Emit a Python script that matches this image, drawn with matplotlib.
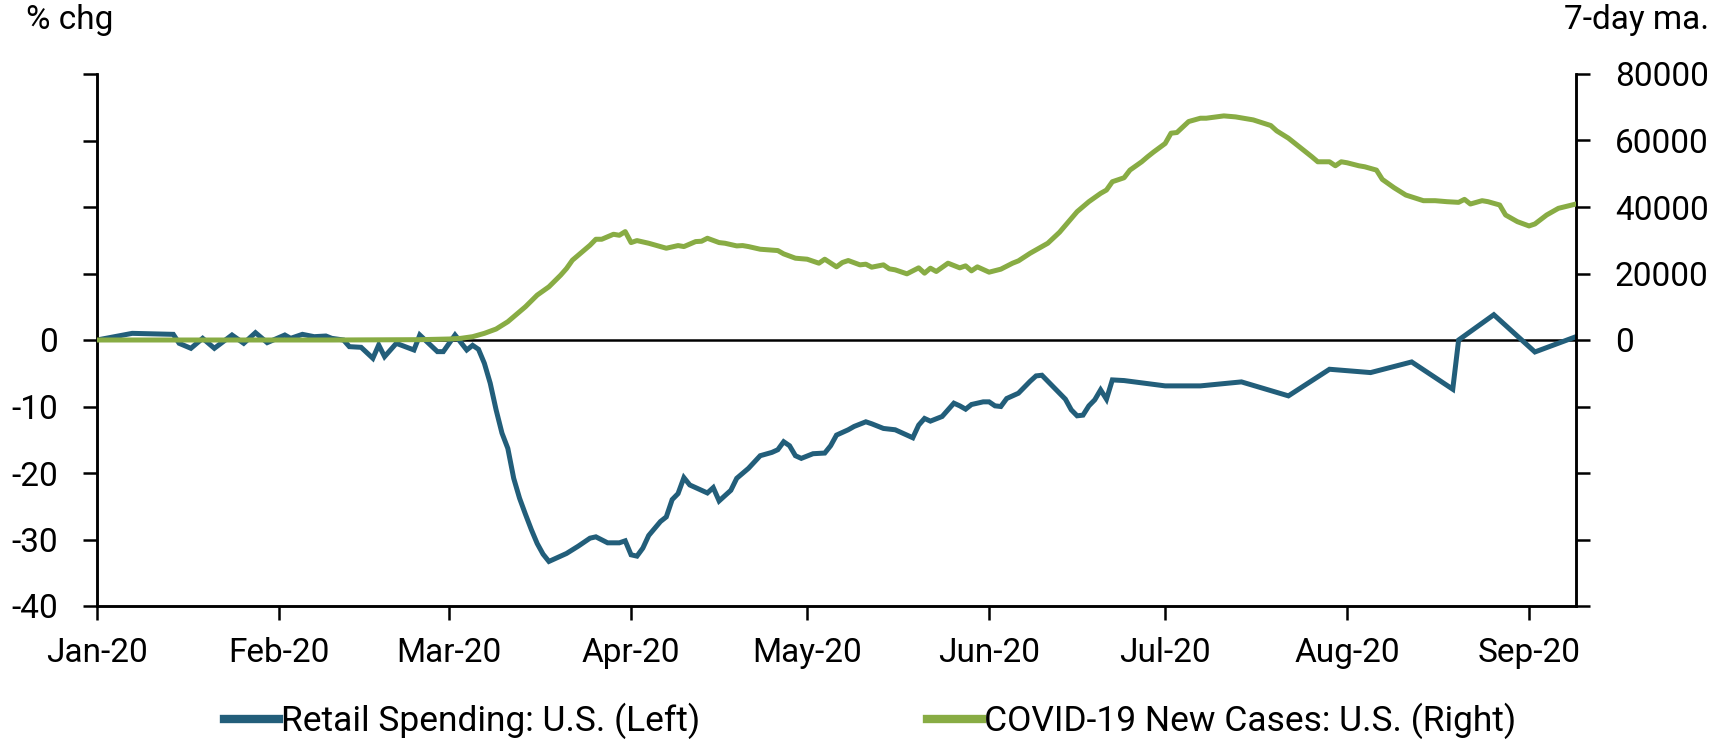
import numpy as np
import pandas as pd
import matplotlib as mpl
mpl.use("Agg")
import matplotlib.pyplot as plt
import matplotlib.dates as mdates
from matplotlib.ticker import FuncFormatter
from matplotlib.lines import Line2D

plt.rcParams['font.family'] = ['Roboto', 'DejaVu Sans']
fontsize = 24

start = pd.Timestamp("2020-01-01")
end_day = 252

# Retail spending, % chg (left axis); days counted from 2020-01-01
retail_day = [0, 6, 13, 14, 16, 18, 20, 23, 25, 27, 29, 32, 33, 35, 37, 39, 40, 42, 43, 45,
              47, 48, 49, 51, 54, 55, 58, 59, 61, 63, 64, 65, 66, 67, 68, 69, 70, 71, 72, 73,
              74, 75, 76, 77, 78, 80, 82, 84, 85, 87, 89, 90, 91, 92, 93, 94, 96, 97, 98, 99,
              100, 101, 103, 104, 105, 106, 108, 109, 111, 113, 115, 116, 117, 118, 119, 120,
              122, 124, 125, 126, 128, 129, 131, 132, 134, 136, 138, 139, 140, 141, 142, 144,
              145, 146, 147, 148, 149, 151, 152, 153, 154, 155, 157, 159, 160, 161, 163, 165,
              166, 167, 168, 169, 170, 171, 172, 173, 175, 182, 188, 195, 203, 210, 217, 224,
              231, 232, 238, 245, 252]
retail_val = [0.0, 1.0, 0.85, -0.5, -1.25, 0.25, -1.25, 0.75, -0.5, 1.1, -0.4, 0.75, 0.25, 0.85,
              0.5, 0.6, 0.25, 0.0, -1.0, -1.1, -2.75, -0.75, -2.5, -0.5, -1.5, 0.75, -1.75, -1.75,
              0.75, -1.5, -0.8, -1.4, -3.5, -6.5, -10.5, -14.0, -16.3, -20.8, -23.8, -26.2,
              -28.5, -30.6, -32.2, -33.3, -32.9, -32.1, -31.0, -29.8, -29.6, -30.5, -30.5, -30.2,
              -32.3, -32.5, -31.3, -29.4, -27.3, -26.6, -24.0, -23.1, -20.7, -21.8, -22.6, -23.0,
              -22.2, -24.2, -22.6, -20.8, -19.3, -17.4, -16.9, -16.5, -15.3, -15.9, -17.4, -17.8,
              -17.1, -17.0, -15.9, -14.3, -13.5, -13.0, -12.3, -12.6, -13.3, -13.5, -14.3, -14.7,
              -12.8, -11.8, -12.2, -11.5, -10.5, -9.5, -9.9, -10.4, -9.7, -9.3, -9.3, -9.9,
              -10.0, -8.8, -8.0, -6.2, -5.4, -5.3, -7.1, -8.9, -10.5, -11.4, -11.3, -9.9, -9.0,
              -7.5, -8.9, -6.0, -6.1, -6.9, -6.9, -6.3, -8.4, -4.4, -4.9, -3.3, -7.4, 0.0, 3.8,
              -1.8, 0.5]

# COVID-19 new cases, 7-day moving average (right axis)
cases_day = [0, 40, 55, 60, 62, 64, 66, 68, 70, 71, 73, 75, 77, 79, 80, 81, 83, 84, 85, 86,
             88, 89, 90, 91, 92, 94, 97, 99, 100, 102, 103, 104, 106, 107, 109, 110, 111, 113,
             116, 117, 119, 121, 123, 124, 126, 127, 128, 130, 131, 132, 134, 135, 136, 138,
             140, 141, 142, 143, 145, 147, 148, 149, 150, 152, 154, 156, 157, 159, 162, 164,
             167, 169, 171, 172, 173, 175, 176, 178, 179, 180, 182, 183, 184, 186, 188, 189,
             192, 194, 197, 200, 201, 203, 204, 207, 208, 210, 211, 212, 213, 215, 216, 218,
             219, 221, 223, 226, 228, 230, 232, 233, 234, 236, 237, 239, 240, 242, 244, 245,
             247, 249, 252]
cases_val = [0, 0, 100, 300, 500, 1000, 2000, 3300, 5500, 7000, 10000, 13500, 16000, 19500,
             21500, 24000, 27000, 28500, 30300, 30300, 31800, 31500, 32600, 29300, 29900, 29100,
             27600, 28400, 28100, 29600, 29700, 30600, 29300, 29100, 28300, 28400, 28100, 27300,
             26900, 25900, 24600, 24300, 23100, 24300, 22000, 23300, 23900, 22600, 22800, 21900,
             22600, 21400, 21100, 19900, 21700, 20100, 21600, 20600, 23100, 21700, 22300, 20800,
             22000, 20400, 21300, 23100, 23800, 26100, 29100, 32400, 38600, 41600, 44100, 45100,
             47600, 48800, 51100, 53600, 55100, 56500, 59100, 62200, 62400, 65700, 66700, 66700,
             67400, 67100, 66200, 64500, 62900, 60700, 59300, 55100, 53600, 53600, 52400, 53600,
             53300, 52400, 52100, 51100, 48300, 45800, 43600, 41900, 41900, 41600, 41400, 42300,
             40900, 41900, 41600, 40600, 37600, 35600, 34300, 34900, 37600, 39600, 40900]

retail_label = "Retail Spending: U.S. (Left)"
cases_label = "COVID-19 New Cases: U.S. (Right)"

blue = "#225E7A"
green = "#88AC44"

retail_dates = start + pd.to_timedelta(retail_day, unit="D")
cases_dates = start + pd.to_timedelta(cases_day, unit="D")

fig = plt.figure(figsize=(17.34, 7.41), dpi=100)
ax = fig.add_axes([97 / 1734, 1 - 606 / 741, (1576 - 97) / 1734, (606 - 74) / 741])
ax2 = ax.twinx()

ax.axhline(0, color="black", lw=1.8, zorder=1)
ax.plot(retail_dates, retail_val, color=blue, lw=3.6, solid_joinstyle="miter", zorder=2)
ax2.plot(cases_dates, cases_val, color=green, lw=3.6, zorder=3)

ax.set_xlim(start, start + pd.Timedelta(days=end_day))
ax.set_ylim(-40, 40)
ax2.set_ylim(-80000, 80000)
ax.set_yticks(np.arange(-40, 41, 10))
ax2.set_yticks(np.arange(-80000, 80001, 20000))
ax.yaxis.set_major_formatter(FuncFormatter(lambda v, p: f"{v:.0f}" if v <= 0 else ""))
ax2.yaxis.set_major_formatter(FuncFormatter(lambda v, p: f"{v:.0f}" if v >= 0 else ""))

ax.xaxis.set_major_locator(mdates.MonthLocator())
ax.xaxis.set_major_formatter(mdates.DateFormatter("%b-%y"))

for a in (ax, ax2):
    a.spines['top'].set_visible(False)
    for s in ('left', 'right', 'bottom'):
        a.spines[s].set_linewidth(1.8)
    a.tick_params(labelsize=fontsize, width=1.8, length=10, colors="black")
ax.tick_params(axis='y', pad=18)
ax2.tick_params(axis='y', pad=18)
ax.tick_params(axis='x', pad=12)

fig.text(70 / 1734, 1 - 20 / 741, "% chg", fontsize=fontsize, ha="center", va="center")
fig.text(1637 / 1734, 1 - 20 / 741, "7-day ma.", fontsize=fontsize, ha="center", va="center")

handles = [Line2D([], [], color=blue, lw=6), Line2D([], [], color=green, lw=6)]
fig.legend(handles, [retail_label, cases_label], loc="center", ncol=2,
           bbox_to_anchor=(870 / 1734, 1 - 721 / 741), frameon=False, fontsize=25.5,
           handlelength=1.55, handletextpad=0.05, columnspacing=6.4, borderaxespad=0)

fig.savefig("out.png", dpi=100)
